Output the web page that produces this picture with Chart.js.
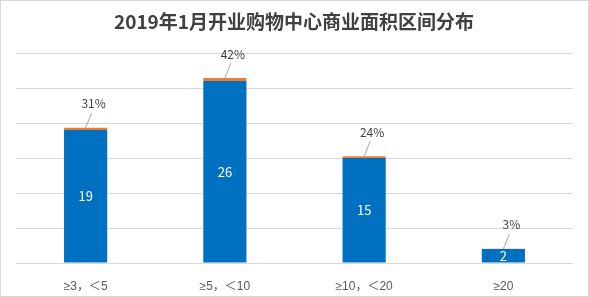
<!DOCTYPE html>
<html><head><meta charset="utf-8">
<script src="https://cdn.jsdelivr.net/npm/chart.js@4/dist/chart.umd.min.js"></script>
<style>html,body{margin:0;padding:0;background:#fff}#wrap{width:589px;height:297px;position:relative}</style>
</head><body><div id="wrap"><canvas id="c" width="589" height="297"></canvas></div>
<script>
const titleText = "2019年1月开业购物中心商业面积区间分布";
const categories = ["≥3，＜5", "≥5，＜10", "≥10，＜20", "≥20"];
const counts = [19, 26, 15, 2];
const shares = [0.31, 0.42, 0.24, 0.03];
const yTicks = [0, 5, 10, 15, 20, 25, 30];

const FONT = "'Noto Sans CJK SC', 'Noto Sans', sans-serif";
const LABEL_FONT = "'Liberation Sans', 'Noto Sans CJK SC', sans-serif";

const overlay = {
  id: 'overlay',
  afterDatasetsDraw(chart) {
    const ctx = chart.ctx;
    const m0 = chart.getDatasetMeta(0).data;
    const m1 = chart.getDatasetMeta(1).data;
    ctx.save();
    ctx.fillStyle = '#ffffff';
    ctx.font = '13px ' + FONT;
    ctx.textAlign = 'center';
    ctx.textBaseline = 'middle';
    m0.forEach((b, i) => {
      ctx.fillText(String(counts[i]), b.x, (b.y + b.base) / 2);
    });
    ctx.font = '12px ' + FONT;
    ctx.fillStyle = '#404040';
    ctx.strokeStyle = '#a6a6a6';
    ctx.lineWidth = 1;
    m1.forEach((b, i) => {
      const top = b.y;
      ctx.beginPath();
      ctx.moveTo(b.x, top);
      ctx.lineTo(b.x + 6, top - 15);
      ctx.stroke();
      ctx.fillText(Math.round(shares[i] * 100) + '%', b.x + 8, top - 24);
    });
    ctx.restore();
  },
  afterDraw(chart) {
    const ctx = chart.ctx;
    ctx.save();
    ctx.fillStyle = '#404040';
    ctx.font = 'bold 19px ' + FONT;
    ctx.textAlign = 'center';
    ctx.textBaseline = 'middle';
    ctx.fillText(titleText, 294, 22);
    ctx.strokeStyle = '#d9d9d9';
    ctx.lineWidth = 1;
    ctx.strokeRect(0.5, 0.5, 588, 296);
    ctx.restore();
  }
};

new Chart(document.getElementById('c'), {
  type: 'bar',
  data: {
    labels: categories,
    datasets: [
      { data: counts, backgroundColor: '#0070C0', stack: 's', barPercentage: 0.31, categoryPercentage: 1 },
      { data: shares, backgroundColor: '#ED7D31', stack: 's', barPercentage: 0.31, categoryPercentage: 1 }
    ]
  },
  options: {
    responsive: false,
    animation: false,
    events: [],
    layout: { padding: { left: 16, right: 16, top: 53, bottom: 0 } },
    plugins: { legend: { display: false }, tooltip: { enabled: false }, title: { display: false } },
    scales: {
      x: {
        stacked: true,
        grid: { display: false },
        border: { display: false },
        ticks: { color: '#595959', font: { size: 12, family: LABEL_FONT }, padding: 8, maxRotation: 0 },
        afterFit(s) { s.height = 34; }
      },
      y: {
        stacked: true,
        min: yTicks[0],
        max: yTicks[yTicks.length - 1],
        afterBuildTicks(s) { s.ticks = yTicks.map(v => ({ value: v })); },
        ticks: { display: false },
        grid: { color: '#d9d9d9', drawTicks: false },
        border: { display: false },
        afterFit(s) { s.width = 0; }
      }
    }
  },
  plugins: [overlay]
});
</script></body></html>
